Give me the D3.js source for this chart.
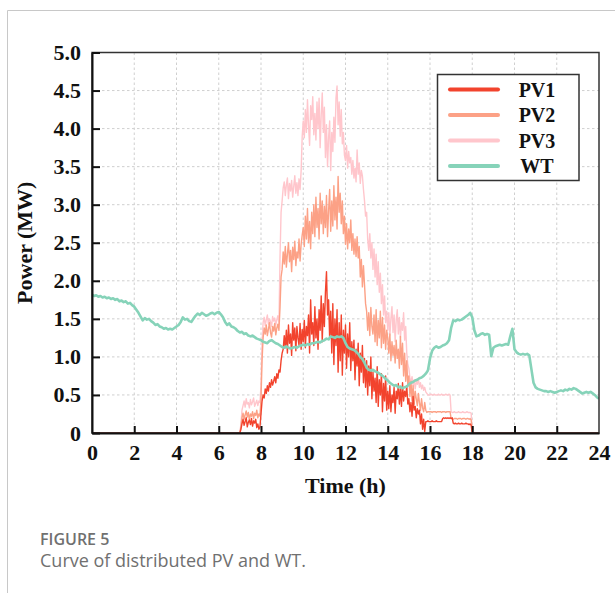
<!DOCTYPE html>
<html>
<head>
<meta charset="utf-8">
<script src="https://cdn.jsdelivr.net/npm/d3@7/dist/d3.min.js"></script>
<style>
  html, body { margin: 0; padding: 0; background: #fff; }
  svg { display: block; }
</style>
</head>
<body>
<svg id="chart" width="615" height="593"></svg>
<script>
// Tick values
const xTicks = [0, 2, 4, 6, 8, 10, 12, 14, 16, 18, 20, 22, 24];
const yTicks = [0, 0.5, 1.0, 1.5, 2.0, 2.5, 3.0, 3.5, 4.0, 4.5, 5.0];

// Series names shown in the legend
const seriesNames = ["PV1", "PV2", "PV3", "WT"];

// PV output (MW), sampled every 0.05 h from 7.00 h to 18.00 h (one row per hour);
// the units produce nothing outside that window
const pvStart = 7.0;
const pvStep = 0.05;
const pv1 = [
  0.00,0.05,0.12,0.18,0.10,0.15,0.20,0.08,0.14,0.17,0.11,0.19,0.09,0.16,0.13,0.18,0.07,0.12,0.05,0.08,
  0.25,0.42,0.50,0.46,0.58,0.52,0.62,0.55,0.66,0.60,0.70,0.63,0.68,0.74,0.66,0.78,0.72,0.83,0.80,0.95,
  1.05,1.10,1.28,1.12,1.35,1.05,1.42,1.18,1.30,1.02,1.45,1.22,1.38,1.08,1.40,1.25,1.15,1.44,1.10,1.36,
  1.20,1.48,1.12,1.40,1.28,1.55,1.05,1.75,1.30,1.45,1.15,1.66,1.25,1.50,1.10,1.62,1.35,1.80,1.20,1.70,
  1.40,1.85,2.12,1.55,1.75,1.25,1.60,1.05,1.70,0.90,1.50,1.15,1.62,0.80,1.45,0.95,1.55,0.76,1.35,1.05,
  1.42,0.85,1.30,1.00,1.45,0.82,1.20,0.95,1.22,0.70,1.10,0.88,1.18,0.62,1.05,0.80,1.15,0.66,0.98,0.60,
  0.95,0.50,0.88,0.62,1.00,0.45,0.80,0.55,0.72,0.40,0.87,0.35,0.70,0.50,0.78,0.28,0.65,0.42,0.75,0.30,
  0.55,0.32,0.62,0.28,0.50,0.40,0.60,0.26,0.55,0.45,0.65,0.38,0.58,0.35,0.66,0.42,0.55,0.48,0.62,0.38,
  0.45,0.28,0.40,0.22,0.48,0.30,0.35,0.20,0.32,0.25,0.30,0.12,0.25,0.05,0.18,0.02,0.15,0.15,0.16,0.15,
  0.15,0.15,0.16,0.15,0.15,0.15,0.16,0.15,0.15,0.15,0.15,0.15,0.19,0.20,0.19,0.20,0.19,0.20,0.19,0.20,
  0.19,0.20,0.13,0.12,0.13,0.12,0.12,0.13,0.12,0.12,0.13,0.12,0.12,0.12,0.13,0.12,0.12,0.11,0.12,0.10,
  0.00
];
const pv2 = [
  0.00,0.08,0.20,0.26,0.18,0.24,0.29,0.21,0.27,0.17,0.25,0.22,0.28,0.19,0.26,0.23,0.30,0.20,0.25,0.22,
  0.45,0.95,1.25,1.38,1.30,1.42,1.28,1.36,1.45,1.32,1.26,1.40,1.34,1.44,1.29,1.38,1.43,1.35,1.65,2.05,
  2.15,2.38,2.22,2.45,2.18,2.35,2.50,2.25,2.40,2.12,2.44,2.28,2.52,2.20,2.38,2.30,2.55,2.26,2.48,2.60,
  2.70,2.45,2.85,2.55,2.95,2.50,2.78,2.42,2.90,2.62,3.00,2.58,3.10,2.70,2.95,2.55,3.15,2.75,3.05,2.62,
  2.98,2.70,3.12,2.58,2.92,3.20,2.65,3.05,2.72,3.25,2.80,3.10,2.68,3.37,2.90,3.15,2.75,3.05,2.62,2.85,
  2.48,2.75,2.42,2.68,2.50,2.80,2.40,2.62,2.35,2.55,2.32,2.58,2.30,2.45,2.05,2.28,1.92,2.20,1.95,1.70,
  1.60,1.35,1.58,1.28,1.65,1.40,1.30,1.55,1.20,1.62,1.15,1.48,1.25,1.60,1.12,1.52,1.18,1.42,1.10,1.35,
  1.25,1.05,1.30,0.95,1.20,1.02,1.15,0.92,1.22,0.98,1.10,0.85,1.27,0.90,1.18,0.75,1.05,0.68,0.95,0.62,
  0.75,0.48,0.68,0.42,0.62,0.38,0.55,0.45,0.36,0.52,0.40,0.30,0.45,0.33,0.28,0.40,0.30,0.27,0.28,0.28,
  0.28,0.28,0.27,0.28,0.28,0.28,0.27,0.28,0.28,0.28,0.28,0.27,0.28,0.28,0.28,0.27,0.28,0.28,0.28,0.28,
  0.19,0.19,0.18,0.19,0.19,0.19,0.18,0.19,0.19,0.19,0.18,0.19,0.19,0.19,0.18,0.19,0.19,0.18,0.19,0.17,
  0.00
];
const pv3 = [
  0.00,0.12,0.30,0.36,0.42,0.34,0.45,0.38,0.40,0.33,0.44,0.37,0.41,0.46,0.35,0.39,0.43,0.36,0.42,0.40,
  0.62,1.20,1.45,1.52,1.41,1.49,1.55,1.43,1.50,1.46,1.40,1.53,1.47,1.51,1.42,1.49,1.54,1.44,2.30,2.90,
  3.05,3.22,3.30,3.12,3.26,3.35,3.08,3.28,3.18,3.32,3.10,3.24,3.38,3.15,3.29,3.12,3.34,3.20,3.45,3.90,
  4.10,3.88,4.25,3.95,4.38,4.05,3.78,4.30,4.12,4.42,3.92,4.20,3.85,4.35,4.00,4.40,3.75,4.18,4.47,3.95,
  4.28,3.62,4.05,3.50,3.88,4.10,3.45,3.95,3.70,4.15,3.82,4.40,4.56,4.05,4.35,3.90,4.25,3.80,3.95,3.65,
  3.58,3.78,3.48,3.70,3.55,3.62,3.40,3.58,3.35,3.48,3.30,3.72,3.40,3.55,3.28,3.45,3.38,3.20,3.05,2.85,
  2.90,2.55,2.40,2.62,2.30,2.50,2.15,2.42,2.05,2.35,1.95,2.25,1.85,2.10,1.70,1.95,1.55,1.80,1.45,1.60,
  1.35,1.58,1.28,1.50,1.66,1.32,1.55,1.20,1.48,1.62,1.30,1.52,1.25,1.45,1.35,1.58,1.22,1.40,1.05,0.90,
  0.85,0.72,0.66,0.74,0.62,0.70,0.58,0.68,0.64,0.72,0.60,0.66,0.58,0.63,0.56,0.60,0.54,0.52,0.50,0.50,
  0.50,0.51,0.50,0.50,0.51,0.50,0.50,0.50,0.51,0.50,0.50,0.51,0.50,0.50,0.50,0.51,0.50,0.50,0.51,0.50,
  0.28,0.27,0.27,0.28,0.27,0.27,0.27,0.28,0.27,0.27,0.27,0.28,0.27,0.27,0.27,0.28,0.27,0.27,0.27,0.26,
  0.00
];

// Wind turbine output (MW), sampled every 0.1 h over the whole day
const wtStep = 0.1;
const wt = [
  1.82,1.80,1.81,1.79,1.80,1.78,1.79,1.77,1.78,1.76,
  1.77,1.75,1.76,1.73,1.74,1.72,1.73,1.70,1.71,1.68,
  1.66,1.62,1.58,1.53,1.48,1.51,1.49,1.50,1.47,1.45,
  1.42,1.43,1.40,1.39,1.37,1.38,1.36,1.37,1.36,1.38,
  1.40,1.42,1.46,1.52,1.49,1.50,1.47,1.46,1.50,1.54,
  1.57,1.55,1.58,1.56,1.54,1.55,1.57,1.58,1.56,1.58,
  1.59,1.56,1.52,1.46,1.42,1.44,1.40,1.39,1.37,1.34,
  1.32,1.33,1.30,1.31,1.28,1.27,1.28,1.26,1.24,1.23,
  1.22,1.20,1.19,1.18,1.21,1.22,1.20,1.18,1.17,1.15,
  1.13,1.12,1.14,1.12,1.11,1.12,1.13,1.12,1.14,1.15,
  1.16,1.15,1.17,1.16,1.18,1.18,1.19,1.20,1.19,1.21,
  1.22,1.24,1.23,1.27,1.26,1.25,1.27,1.26,1.27,1.25,
  1.18,1.13,1.11,1.10,1.09,1.07,1.04,1.00,0.97,0.92,
  0.86,0.83,0.82,0.83,0.81,0.80,0.78,0.76,0.74,0.71,
  0.69,0.66,0.64,0.62,0.63,0.60,0.61,0.59,0.60,0.61,
  0.64,0.66,0.67,0.69,0.70,0.72,0.73,0.75,0.78,0.82,
  0.98,1.08,1.12,1.14,1.12,1.13,1.15,1.16,1.18,1.22,
  1.38,1.48,1.47,1.49,1.48,1.49,1.51,1.53,1.55,1.58,
  1.52,1.35,1.27,1.28,1.30,1.31,1.29,1.30,1.29,1.01,
  1.12,1.14,1.15,1.16,1.15,1.16,1.17,1.16,1.27,1.37,
  1.10,1.06,1.04,1.03,1.04,1.03,1.04,1.02,0.84,0.66,
  0.60,0.58,0.57,0.56,0.55,0.55,0.54,0.55,0.54,0.53,
  0.54,0.55,0.56,0.55,0.57,0.56,0.58,0.57,0.59,0.58,
  0.56,0.54,0.52,0.53,0.54,0.53,0.54,0.52,0.50,0.47,
  0.45
];

const colors = { PV1: "#f2432d", PV2: "#fca186", PV3: "#ffc6cc", WT: "#86d3b9" };

const svg = d3.select("#chart");
const m = { left: 92, right: 599, top: 52.5, bottom: 433 };

const x = d3.scaleLinear().domain([0, 24]).range([m.left, m.right]);
const y = d3.scaleLinear().domain([0, 5]).range([m.bottom, m.top]);

// card border (top and left edges)
svg.append("line").attr("x1", 7.5).attr("x2", 615).attr("y1", 10.5).attr("y2", 10.5)
  .attr("stroke", "#c8c8c8").attr("stroke-width", 1);
svg.append("line").attr("x1", 7.5).attr("x2", 7.5).attr("y1", 10.5).attr("y2", 593)
  .attr("stroke", "#c8c8c8").attr("stroke-width", 1);

// dotted grid
const grid = svg.append("g").attr("stroke", "#cfcfcf").attr("stroke-width", 1)
  .attr("stroke-dasharray", "2.5,2.5");
grid.selectAll("line.v").data(xTicks.slice(1, -1)).join("line")
  .attr("x1", d => x(d)).attr("x2", d => x(d))
  .attr("y1", m.top).attr("y2", m.bottom);
grid.selectAll("line.h").data(yTicks.slice(1, -1)).join("line")
  .attr("y1", d => y(d)).attr("y2", d => y(d))
  .attr("x1", m.left).attr("x2", m.right);

// build point lists
function pvPoints(vals) {
  const pts = [[0, 0]];
  vals.forEach((v, i) => pts.push([pvStart + i * pvStep, v]));
  pts.push([24, 0]);
  return pts;
}
const series = {
  PV1: pvPoints(pv1),
  PV2: pvPoints(pv2),
  PV3: pvPoints(pv3),
  WT: wt.map((v, i) => [i * wtStep, v])
};

svg.append("clipPath").attr("id", "plotClip").append("rect")
  .attr("x", m.left).attr("y", m.top)
  .attr("width", m.right - m.left).attr("height", m.bottom - m.top);

const line = d3.line().x(d => x(d[0])).y(d => y(d[1]));
const plot = svg.append("g").attr("clip-path", "url(#plotClip)");
["PV3", "PV2", "PV1", "WT"].forEach(name => {
  plot.append("path").datum(series[name])
    .attr("d", line)
    .attr("fill", "none")
    .attr("stroke", colors[name])
    .attr("stroke-width", name === "WT" ? 2.6 : 1.4)
    .attr("stroke-linejoin", "round");
});

// frame
svg.append("rect").attr("x", m.left).attr("y", m.top)
  .attr("width", m.right - m.left).attr("height", m.bottom - m.top)
  .attr("fill", "none").attr("stroke", "#333").attr("stroke-width", 1.5);

const tickFont = "'Liberation Serif', 'Times New Roman', serif";

// axes with inward ticks
const xAxis = svg.append("g").attr("transform", `translate(0,${m.bottom})`)
  .call(d3.axisBottom(x).tickValues(xTicks).tickSize(-7).tickSizeOuter(0).tickPadding(11)
    .tickFormat(d3.format("d")));
const yAxis = svg.append("g").attr("transform", `translate(${m.left},0)`)
  .call(d3.axisLeft(y).tickValues(yTicks).tickSize(-8).tickSizeOuter(0).tickPadding(11)
    .tickFormat(d => d === 0 ? "0" : d.toFixed(1)));
[xAxis, yAxis].forEach(g => {
  g.select(".domain").attr("stroke", "#111").attr("stroke-width", 2);
  g.selectAll(".tick line").attr("stroke", "#111").attr("stroke-width", 2);
  g.selectAll(".tick text").attr("fill", "#111")
    .style("font-family", tickFont).style("font-size", "22px").style("font-weight", "bold");
});
xAxis.selectAll(".tick").filter(d => d === 0 || d === 24).select("line").remove();

// axis titles
svg.append("text").attr("x", (m.left + m.right) / 2).attr("y", 493)
  .attr("text-anchor", "middle").attr("fill", "#111")
  .style("font-family", tickFont).style("font-size", "22px").style("font-weight", "bold")
  .text("Time (h)");
svg.append("text").attr("transform", `translate(32,${(m.top + m.bottom) / 2}) rotate(-90)`)
  .attr("text-anchor", "middle").attr("fill", "#111")
  .style("font-family", tickFont).style("font-size", "22px").style("font-weight", "bold")
  .text("Power (MW)");

// legend
const lg = svg.append("g");
lg.append("rect").attr("x", 437.5).attr("y", 74.5).attr("width", 141.5).attr("height", 106)
  .attr("fill", "#fff").attr("stroke", "#333").attr("stroke-width", 1.5);
seriesNames.forEach((name, i) => {
  const cy = 89.5 + i * 25.5;
  lg.append("line").attr("x1", 450).attr("x2", 498).attr("y1", cy).attr("y2", cy)
    .attr("stroke", colors[name]).attr("stroke-width", 4).attr("stroke-linecap", "round");
  lg.append("text").attr("x", 537).attr("y", cy).attr("dy", "0.35em")
    .attr("text-anchor", "middle").attr("fill", "#111")
    .style("font-family", tickFont).style("font-size", "20px").style("font-weight", "bold")
    .text(name);
});

// caption
svg.append("text").attr("x", 40).attr("y", 545)
  .attr("fill", "#707070")
  .style("font-family", "'Open Sans', 'Noto Sans', sans-serif").style("font-size", "16px")
  .style("font-weight", "600")
  .text("FIGURE 5");
svg.append("text").attr("x", 40).attr("y", 567)
  .attr("fill", "#707070")
  .style("font-family", "'Open Sans', 'Noto Sans', sans-serif").style("font-size", "18px")
  .text("Curve of distributed PV and WT.");
</script>
</body>
</html>
